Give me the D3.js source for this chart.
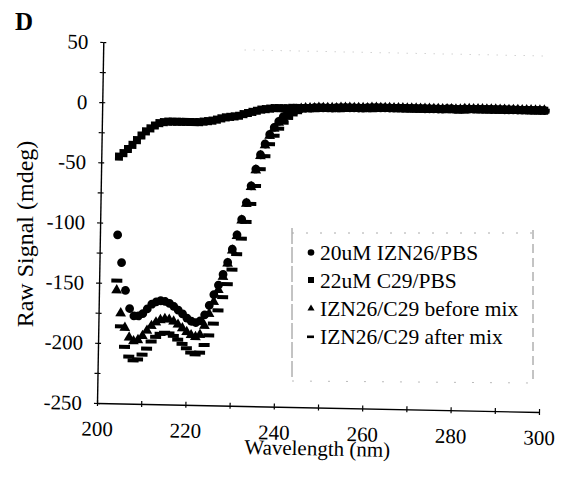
<!DOCTYPE html>
<html>
<head>
<meta charset="utf-8">
<script src="https://cdn.jsdelivr.net/npm/d3@7"></script>
<style>
  body { margin: 0; background: #fff; }
  svg { display: block; }
  svg text { font-family: "Liberation Serif", "Times New Roman", serif !important; fill: #000; }
</style>
</head>
<body>
<svg id="chart" width="565" height="477"></svg>
<script>
// CD spectra, raw signal (mdeg) against wavelength (nm), 1 nm steps
const wavelengths = [
  204, 205, 206, 207, 208, 209,
  210, 211, 212, 213, 214, 215, 216, 217, 218, 219,
  220, 221, 222, 223, 224, 225, 226, 227, 228, 229,
  230, 231, 232, 233, 234, 235, 236, 237, 238, 239,
  240, 241, 242, 243, 244, 245, 246, 247, 248, 249,
  250, 251, 252, 253, 254, 255, 256, 257, 258, 259,
  260, 261, 262, 263, 264, 265, 266, 267, 268, 269,
  270, 271, 272, 273, 274, 275, 276, 277, 278, 279,
  280, 281, 282, 283, 284, 285, 286, 287, 288, 289,
  290, 291, 292, 293, 294, 295, 296, 297, 298, 299,
  300
];

const izn26Pbs = [
  -110, -133, -156, -171, -177, -177,
  -175, -171, -167, -165, -164, -164.5, -166, -168.5, -171.5, -174.5,
  -178, -180.5, -181.5, -180, -175, -167, -158, -150, -141, -131,
  -120, -108, -95, -81, -67, -53, -41, -32, -24, -18,
  -13, -9, -6, -4, -3, -2, -1.5, -1.5, -1, -1,
  -1, -1, -1, -0.5, -0.5, -0.5, -0.5, -0.5, -0.5, -0.5,
  0, 0, 0, 0, 0, 0, 0, 0, 0, 0,
  0, 0, 0, 0, 0, 0, 0, 0, 0.5, 0.5,
  0, 0, 0.5, 0.5, 0.5, 0.5, 0.5, 0.5, 0.5, 0.5,
  0.5, 0.5, 0.5, 0.5, 0.5, 0.5, 0.5, 0.5, 0.5, 0.5,
  0.5
];

const c29Pbs = [
  -45, -42, -38.5, -35, -31, -27,
  -23.5, -21, -18.5, -16.5, -15.5, -15, -15, -15, -15, -15,
  -15, -15, -15, -14.5, -14, -13.5, -12.5, -11.5, -10.5, -10,
  -9.5, -9, -7.5, -6.5, -5.5, -4.5, -3.5, -3, -2.5, -2,
  -2, -2, -2, -1.5, -1.5, -1.5, -1.5, -1.5, -1.5, -1,
  -1, -1, -1, -1, -1, -0.5, -0.5, -0.5, -0.5, -0.5,
  -0.5, -0.5, 0, 0, 0, 0, 0, 0, 0, 0,
  0, 0, 0, 0, 0, 0, 0, 0, 0, 0,
  0, 0, 0, 0.5, 0.5, 0.5, 0.5, 0.5, 0.5, 0.5,
  0.5, 0.5, 0.5, 0.5, 0.5, 0.5, 0.5, 0.5, 0.5, 0.5,
  0.5
];

const beforeMix = [
  -156, -175, -187, -195, -198, -197,
  -193.5, -189, -185, -182, -180, -179, -179.5, -181, -183.5, -186.5,
  -189.5, -192, -193.5, -191.5, -184, -174, -164, -154, -143, -132,
  -121, -109, -96, -82, -68, -54, -42, -33, -25, -19,
  -14, -10, -7, -4.5, -3, -2, -1.5, -1.5, -1.5, -1,
  -1, -1, -1, -1, -0.5, -0.5, -0.5, -0.5, -0.5, -0.5,
  -0.5, 0, 0, 0, 0, 0, 0, 0, 0, 0,
  0, 0, 0, 0, 0, 0, 0, 0, 0, 0,
  0, 0, 0.5, 0.5, 0.5, 0.5, 0.5, 0.5, 0.5, 0.5,
  0.5, 0.5, 0.5, 0.5, 0.5, 0.5, 0.5, 0.5, 0.5, 0.5,
  0.5
];

const afterMix = [
  -148, -186, -203, -211, -214, -213,
  -209, -204, -198, -194, -191.5, -190.5, -191, -193, -196, -199.5,
  -203, -206.5, -208, -206.5, -200, -192, -182, -171, -160, -149,
  -137, -124, -111, -97, -82, -67, -53, -42, -32, -25,
  -19, -14, -10, -7, -5, -3.5, -2.5, -2, -1.5, -1.5,
  -1, -1, -1, -1, -1, -0.5, -0.5, -0.5, -0.5, -0.5,
  -0.5, -0.5, 0, 0, 0, 0, 0, 0, 0, 0,
  0, 0, 0, 0, 0, 0, 0, 0, 0, 0,
  0, 0, 0, 0.5, 0.5, 0.5, 0.5, 0.5, 0.5, 0.5,
  0.5, 0.5, 0.5, 0.5, 0.5, 0.5, 0.5, 0.5, 0.5, 0.5,
  0.5
];

const seriesLabels = ["20uM IZN26/PBS", "22uM C29/PBS", "IZN26/C29 before mix", "IZN26/C29 after mix"];
const xTickValues = [200, 210, 220, 230, 240, 250, 260, 270, 280, 290, 300];
const yTickValues = [50, 25, 0, -25, -50, -75, -100, -125, -150, -175, -200, -225, -250];

const serif = "'Liberation Serif', 'Times New Roman', serif";
const svg = d3.select("#chart");
const plotW = 442, plotH = 361;

const x = d3.scaleLinear().domain([200, 300]).range([0, plotW]);
const y = d3.scaleLinear().domain([-250, 50]).range([0, -plotH]);

// the plotting frame sits a touch skewed on the page
const plot = svg.append("g")
  .attr("transform", "matrix(1,0.02036,-0.01745,1,97,403)");

// faint top edge of the frame
plot.append("line")
  .attr("x1", x(232)).attr("x2", x(300))
  .attr("y1", y(50) + 5).attr("y2", y(50) + 5)
  .attr("stroke", "#bbb").attr("stroke-width", 1)
  .attr("stroke-dasharray", "1,8");

// x axis: ticks every 10 nm crossing the line, labels every 20 nm
const xAxisDown = d3.axisBottom(x)
  .tickValues(xTickValues)
  .tickSizeInner(3).tickSizeOuter(0).tickPadding(15)
  .tickFormat(d => d % 20 === 0 ? d : "");
const xAxisUp = d3.axisTop(x)
  .tickValues(xTickValues)
  .tickSizeInner(3).tickSizeOuter(0)
  .tickFormat("");

plot.append("g").call(xAxisDown);
plot.append("g").call(xAxisUp).select(".domain").remove();

// y axis: ticks every 25, labels every 50
const yAxisLeft = d3.axisLeft(y)
  .tickValues(yTickValues)
  .tickSizeInner(3).tickSizeOuter(0).tickPadding(12)
  .tickFormat(d => d % 50 === 0 ? d : "");
const yAxisRight = d3.axisRight(y)
  .tickValues(yTickValues)
  .tickSizeInner(3).tickSizeOuter(0)
  .tickFormat("");

plot.append("g").call(yAxisLeft);
plot.append("g").call(yAxisRight).select(".domain").remove();

plot.selectAll("g").attr("font-family", null).attr("font-size", null);
plot.selectAll(".domain").attr("stroke", "#000").attr("stroke-width", 1.4);
plot.selectAll(".tick line").attr("stroke", "#000").attr("stroke-width", 1.2);
plot.selectAll(".tick text")
  .style("font-family", serif)
  .style("font-size", "21px")
  .attr("fill", "#000");

// x axis title
plot.append("text")
  .attr("x", x(250))
  .attr("y", 48)
  .attr("text-anchor", "middle")
  .style("font-family", serif)
  .style("font-size", "21px")
  .text("Wavelength (nm)");

// data markers
const marks = plot.append("g");

const squareSize = 8;
marks.append("g").selectAll("rect")
  .data(wavelengths.map((w, i) => [w, c29Pbs[i]]))
  .join("rect")
  .attr("x", d => x(d[0]) - squareSize / 2)
  .attr("y", d => y(d[1]) - squareSize / 2)
  .attr("width", squareSize).attr("height", squareSize)
  .attr("fill", "#000");

marks.append("g").selectAll("circle")
  .data(wavelengths.map((w, i) => [w, izn26Pbs[i]]))
  .join("circle")
  .attr("cx", d => x(d[0]))
  .attr("cy", d => y(d[1]))
  .attr("r", 4.4)
  .attr("fill", "#000");

const tri = d3.symbol().type(d3.symbolTriangle).size(50);
marks.append("g").selectAll("path")
  .data(wavelengths.map((w, i) => [w, beforeMix[i]]))
  .join("path")
  .attr("d", tri)
  .attr("transform", d => `translate(${x(d[0])},${y(d[1])})`)
  .attr("fill", "#000");

const dashW = 11, dashH = 4;
marks.append("g").selectAll("rect")
  .data(wavelengths.map((w, i) => [w, afterMix[i]]))
  .join("rect")
  .attr("x", d => x(d[0]) - dashW / 2)
  .attr("y", d => y(d[1]) - dashH / 2)
  .attr("width", dashW).attr("height", dashH)
  .attr("fill", "#000");

// panel letter and y axis title
svg.append("text")
  .attr("x", 15).attr("y", 30)
  .style("font-family", serif)
  .style("font-size", "25px")
  .attr("font-weight", "bold")
  .text("D");

svg.append("text")
  .attr("transform", "translate(33,234) rotate(-90)")
  .attr("text-anchor", "middle")
  .style("font-family", serif)
  .style("font-size", "24px")
  .text("Raw Signal (mdeg)");

// legend
const legend = svg.append("g");
legend.append("line").attr("x1", 292).attr("x2", 292).attr("y1", 228).attr("y2", 380)
  .attr("stroke", "#888").attr("stroke-width", 1).attr("stroke-dasharray", "16,3");
legend.append("line").attr("x1", 533).attr("x2", 533).attr("y1", 230).attr("y2", 383)
  .attr("stroke", "#888").attr("stroke-width", 1).attr("stroke-dasharray", "9,5");
legend.append("line").attr("x1", 292).attr("x2", 533).attr("y1", 233).attr("y2", 233)
  .attr("stroke", "#aaa").attr("stroke-width", 1).attr("stroke-dasharray", "2,12");
legend.append("line").attr("x1", 292).attr("x2", 533).attr("y1", 381).attr("y2", 383)
  .attr("stroke", "#bbb").attr("stroke-width", 1).attr("stroke-dasharray", "2,16");

const rowBase = [259.5, 287.5, 315.5, 343.5];
const markerX = 311;

legend.append("circle").attr("cx", markerX).attr("cy", rowBase[0] - 7).attr("r", 3.3).attr("fill", "#000");
legend.append("rect").attr("x", markerX - 3).attr("y", rowBase[1] - 10.5).attr("width", 6).attr("height", 6).attr("fill", "#000");
legend.append("path").attr("d", d3.symbol().type(d3.symbolTriangle).size(22))
  .attr("transform", `translate(${markerX},${rowBase[2] - 7})`).attr("fill", "#000");
legend.append("rect").attr("x", markerX - 4).attr("y", rowBase[3] - 8).attr("width", 7).attr("height", 2.6).attr("fill", "#000");

legend.selectAll("text.lbl")
  .data(seriesLabels)
  .join("text")
  .attr("class", "lbl")
  .attr("x", 320)
  .attr("y", (d, i) => rowBase[i])
  .style("font-family", serif)
  .style("font-size", "21.5px")
  .text(d => d);
</script>
</body>
</html>
